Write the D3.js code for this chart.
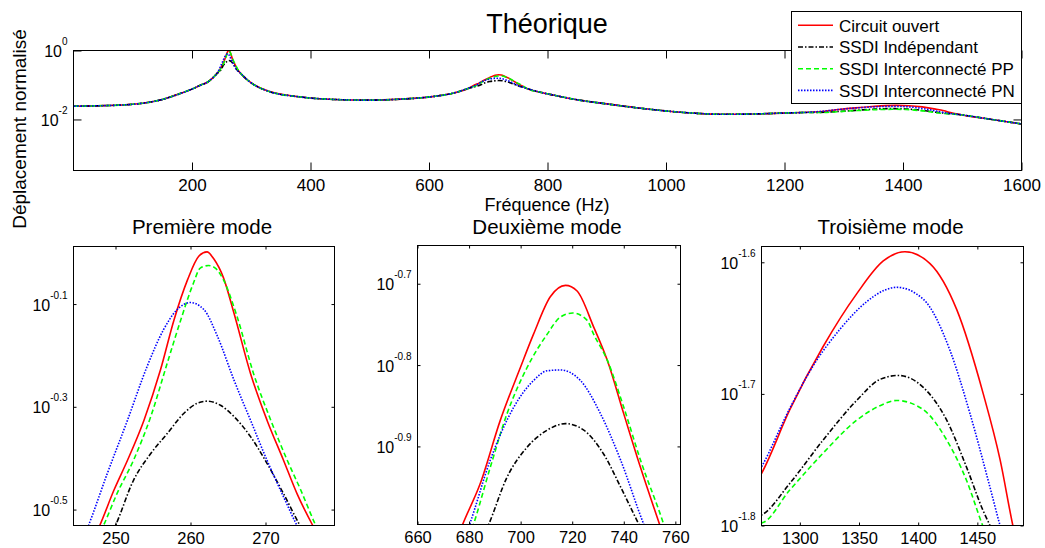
<!DOCTYPE html>
<html><head><meta charset="utf-8">
<script src="https://cdn.jsdelivr.net/npm/d3@7"></script>
<style>
body{margin:0;background:#fff;}
svg{display:block;font-family:"Liberation Sans",Arial,Helvetica,sans-serif;}
</style></head><body>
<svg id="c" width="1045" height="548"></svg>
<script>
// ---------- DATA (values are log10 of the normalised displacement) ----------
const seriesNames = ["Circuit ouvert", "SSDI Indépendant", "SSDI Interconnecté PP", "SSDI Interconnecté PN"];

// off-resonance part, where the four curves coincide in the figure: [frequency Hz, log10 amplitude]
const offResonance = [
  [1,-1.615],[50,-1.60],[100,-1.56],[150,-1.42],[180,-1.25],[200,-1.12],[215,-1.00],[226,-0.92],[236,-0.78],[242,-0.67],
  [282,-0.66],[290,-0.80],[300,-0.94],[327,-1.17],[384,-1.35],[440,-1.42],[497,-1.44],[553,-1.41],[609,-1.33],[640,-1.24],[666,-1.10],
  [765,-1.10],[790,-1.22],[812,-1.30],[850,-1.43],[896,-1.54],[950,-1.66],[1004,-1.76],[1050,-1.82],[1094,-1.85],[1150,-1.84],[1207,-1.81],[1230,-1.80],
  [1500,-1.87],[1550,-2.00],[1600,-2.13]
];

// near-resonance parts (three modes) for each series
const circuitOuvert = [
  [247.9,-0.531],[249.8,-0.462],[251.6,-0.404],[253.8,-0.326],[256.0,-0.228],[257.8,-0.131],[259.6,-0.053],[261.1,-0.007],[262.2,0.0015],[263.1,-0.012],[264.4,-0.049],[265.8,-0.118],[268.0,-0.235],[270.2,-0.326],[272.4,-0.404],[274.2,-0.469],[276.3,-0.531],
  [677.5,-0.996],[684.3,-0.946],[692.1,-0.868],[699.9,-0.803],[705.0,-0.762],[711.5,-0.716],[717.4,-0.702],[721.9,-0.709],[728.3,-0.753],[733.6,-0.794],[740.0,-0.860],[746.5,-0.926],[753.9,-0.996],
  [1267.6,-1.7605],[1291.5,-1.712],[1319.7,-1.664],[1348.0,-1.624],[1370.5,-1.599],[1388.8,-1.592],[1410.0,-1.601],[1432.6,-1.636],[1455.0,-1.700],[1469.2,-1.750],[1480.0,-1.800]
];
const ssdiIndependant = [
  [250.0,-0.531],[252.4,-0.443],[254.7,-0.391],[256.9,-0.352],[259.1,-0.313],[260.9,-0.293],[262.2,-0.289],[264.0,-0.297],[265.8,-0.319],[268.0,-0.358],[270.2,-0.410],[272.4,-0.469],[274.6,-0.531],
  [687.6,-0.996],[694.7,-0.938],[702.5,-0.901],[710.3,-0.880],[717.4,-0.872],[724.5,-0.880],[732.3,-0.910],[738.8,-0.950],[745.9,-0.996],
  [1267.6,-1.792],[1291.5,-1.768],[1319.7,-1.735],[1348.0,-1.705],[1367.7,-1.689],[1383.2,-1.686],[1404.3,-1.695],[1424.1,-1.720],[1441.0,-1.756],[1455.0,-1.789],[1460.7,-1.800]
];
const ssdiInterPP = [
  [248.4,-0.531],[250.2,-0.469],[252.4,-0.404],[254.7,-0.319],[256.9,-0.215],[258.7,-0.131],[260.4,-0.059],[261.3,-0.030],[262.4,-0.025],[263.3,-0.030],[264.4,-0.053],[266.2,-0.124],[268.4,-0.235],[270.7,-0.326],[272.9,-0.404],[274.7,-0.462],[276.7,-0.531],
  [681.7,-0.996],[688.2,-0.926],[694.7,-0.860],[702.5,-0.803],[710.3,-0.762],[715.4,-0.741],[720.2,-0.736],[725.8,-0.745],[728.3,-0.762],[733.6,-0.794],[740.0,-0.852],[746.5,-0.917],[755.5,-0.996],
  [1267.6,-1.798],[1291.5,-1.773],[1319.7,-1.745],[1348.0,-1.720],[1367.7,-1.709],[1381.8,-1.705],[1404.3,-1.712],[1424.1,-1.735],[1441.0,-1.766],[1454.5,-1.800]
];
const ssdiInterPN = [
  [246.4,-0.531],[248.9,-0.430],[251.6,-0.326],[254.2,-0.222],[256.4,-0.150],[258.2,-0.111],[260.0,-0.097],[261.8,-0.111],[263.6,-0.163],[265.8,-0.248],[268.0,-0.326],[270.2,-0.404],[272.4,-0.475],[274.2,-0.531],
  [680.2,-0.996],[688.2,-0.917],[697.3,-0.852],[705.0,-0.819],[710.3,-0.807],[715.4,-0.806],[723.2,-0.819],[731.0,-0.860],[738.8,-0.917],[747.8,-0.996],
  [1267.6,-1.7555],[1291.5,-1.711],[1311.0,-1.679],[1333.8,-1.651],[1356.4,-1.630],[1372.0,-1.621],[1381.8,-1.619],[1404.3,-1.628],[1426.9,-1.667],[1443.8,-1.715],[1460.7,-1.771],[1469.2,-1.800]
];

const topXTicks = [200, 400, 600, 800, 1000, 1200, 1400, 1600];
const topYTickExps = [0, -2];
const panelTitles = ["Première mode", "Deuxième mode", "Troisième mode"];
const panelXTicks = [[250, 260, 270], [660, 680, 700, 720, 740, 760], [1300, 1350, 1400, 1450]];
const panelYTickExps = [[-0.1, -0.3, -0.5], [-0.7, -0.8, -0.9], [-1.6, -1.7, -1.8]];

// ---------- STYLE ----------
const colors = ["#ff0000", "#000000", "#00ff00", "#0000ff"];
const dashes = [null, "5,2,1.5,2", "5,3", "1.5,1.5"];
const FONT = '"Liberation Sans", Arial, Helvetica, sans-serif';

const allSeries = [circuitOuvert, ssdiIndependant, ssdiInterPP, ssdiInterPN]
  .map(peaks => offResonance.concat(peaks).sort((a, b) => a[0] - b[0]));

const svg = d3.select("#c");
const defs = svg.append("defs");

function drawAxes(box, xDomain, yExpDomain, xTicks, yTickExps, tickLen, xPad, xFont, clipId) {
  const x = d3.scaleLinear().domain(xDomain).range([box.x0, box.x1]);
  const y = d3.scaleLog().domain(yExpDomain.map(e => Math.pow(10, e))).range([box.y1, box.y0]);
  const g = svg.append("g");
  g.append("rect").attr("x", box.x0).attr("y", box.y0).attr("width", box.x1 - box.x0).attr("height", box.y1 - box.y0).attr("fill", "#fff");
  defs.append("clipPath").attr("id", clipId).append("rect")
    .attr("x", box.x0).attr("y", box.y0).attr("width", box.x1 - box.x0).attr("height", box.y1 - box.y0);

  const line = d3.line().curve(d3.curveMonotoneX).x(d => x(d[0])).y(d => y(Math.pow(10, d[1])));
  const lg = g.append("g").attr("clip-path", `url(#${clipId})`);
  allSeries.forEach((s, i) => {
    lg.append("path").datum(s).attr("d", line).attr("fill", "none")
      .attr("stroke", colors[i]).attr("stroke-width", 1.6)
      .attr("stroke-dasharray", dashes[i]);
  });

  const yVals = yTickExps.map(e => Math.pow(10, e));
  const bottom = g.append("g").attr("transform", `translate(0,${box.y1})`)
    .call(d3.axisBottom(x).tickValues(xTicks).tickSize(-tickLen).tickPadding(xPad).tickFormat(d3.format("d")));
  const top = g.append("g").attr("transform", `translate(0,${box.y0})`)
    .call(d3.axisTop(x).tickValues(xTicks).tickSize(-tickLen).tickFormat(""));
  const left = g.append("g").attr("transform", `translate(${box.x0},0)`)
    .call(d3.axisLeft(y).tickValues(yVals).tickSize(-tickLen).tickPadding(6).tickFormat(() => "10"));
  const right = g.append("g").attr("transform", `translate(${box.x1},0)`)
    .call(d3.axisRight(y).tickValues(yVals).tickSize(-tickLen).tickFormat(""));

  [bottom, top, left, right].forEach(a => {
    a.select(".domain").remove();
    a.selectAll(".tick line").attr("stroke", "#000").attr("stroke-width", 1);
    a.attr("font-family", FONT);
  });
  bottom.selectAll(".tick text").attr("font-size", xFont).attr("fill", "#000");
  left.selectAll(".tick text").attr("font-size", 16).attr("fill", "#000").attr("dy", "0.38em")
    .each(function (d) {
      const e = Math.round(Math.log10(d) * 10) / 10;
      d3.select(this).append("tspan").attr("font-size", 10).attr("dy", -12).text(String(e));
    });

  g.append("rect").attr("x", box.x0).attr("y", box.y0).attr("width", box.x1 - box.x0).attr("height", box.y1 - box.y0)
    .attr("fill", "none").attr("stroke", "#000").attr("stroke-width", 1);
  return g;
}

// ---------- TOP PLOT ----------
drawAxes({x0: 73.5, x1: 1021.5, y0: 50.5, y1: 170.5}, [0, 1600], [-3.48, 0], topXTicks, topYTickExps, 8, 8, 17, "clipTop");

svg.append("text").attr("x", 547).attr("y", 33).attr("text-anchor", "middle")
  .attr("font-size", 27).attr("fill", "#000").text("Théorique");
svg.append("text").attr("x", 547).attr("y", 211).attr("text-anchor", "middle")
  .attr("font-size", 18).attr("fill", "#000").text("Fréquence (Hz)");
svg.append("text").attr("transform", "translate(25.5,129) rotate(-90)").attr("text-anchor", "middle")
  .attr("font-size", 19).attr("fill", "#000").text("Déplacement normalisé");

// ---------- PANELS ----------
const panelBoxes = [
  {x0: 73.5, x1: 334.5, y0: 246.5, y1: 525.5},
  {x0: 417.5, x1: 680.5, y0: 245.5, y1: 524.5},
  {x0: 761.5, x1: 1023.5, y0: 246.5, y1: 525.5}
];
const panelXDomains = [[244.4, 279.2], [660, 762], [1267.6, 1489]];
const panelYDomains = [[-0.531, 0.012], [-0.996, -0.653], [-1.8, -1.588]];
panelBoxes.forEach((b, i) => {
  drawAxes(b, panelXDomains[i], panelYDomains[i], panelXTicks[i], panelYTickExps[i], 3, 6.5, 16.5, "clipP" + i);
  svg.append("text").attr("x", (b.x0 + b.x1) / 2 - 2).attr("y", 233.5).attr("text-anchor", "middle")
    .attr("font-size", 20.5).attr("fill", "#000").text(panelTitles[i]);
});

// ---------- LEGEND ----------
const leg = svg.append("g").attr("font-family", FONT);
leg.append("rect").attr("x", 791.5).attr("y", 11.5).attr("width", 230).attr("height", 92)
  .attr("fill", "#fff").attr("stroke", "#000").attr("stroke-width", 1);
seriesNames.forEach((n, i) => {
  const yy = 25.3 + i * 21.7;
  leg.append("line").attr("x1", 798).attr("x2", 833).attr("y1", yy).attr("y2", yy)
    .attr("stroke", colors[i]).attr("stroke-width", 1.6).attr("stroke-dasharray", dashes[i]);
  leg.append("text").attr("x", 839).attr("y", yy + 6.3).attr("font-size", 17).attr("fill", "#000").text(n);
});
</script>
</body></html>
